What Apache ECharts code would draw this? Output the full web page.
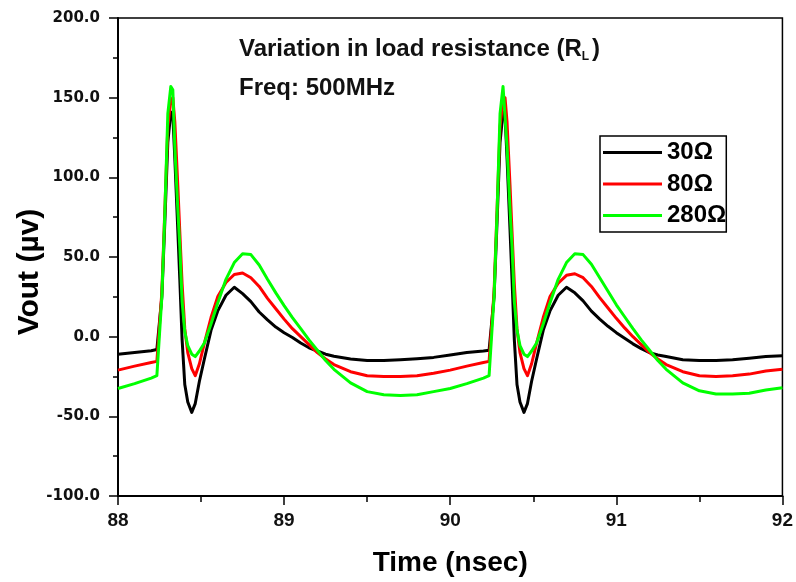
<!DOCTYPE html>
<html>
<head>
<meta charset="utf-8">
<script src="https://cdn.jsdelivr.net/npm/echarts@6/dist/echarts.min.js"></script>
<style>
html,body{margin:0;padding:0;background:#fff;}
#chart{width:796px;height:582px;}
</style>
</head>
<body>
<div id="chart"></div>
<script>
// Time (nsec)
const timeNs = [
  88.00, 88.10, 88.20, 88.234,
  88.264, 88.282, 88.30, 88.318, 88.33, 88.342, 88.36, 88.372, 88.386, 88.402, 88.42, 88.444, 88.465, 88.49,
  88.52, 88.56, 88.60, 88.65, 88.70, 88.75, 88.80, 88.85, 88.90, 88.95, 89.00, 89.05, 89.10, 89.15, 89.20, 89.25, 89.30, 89.40, 89.50, 89.60, 89.70, 89.80, 89.90, 90.00, 90.10, 90.20,
  90.234,
  90.264, 90.282, 90.30, 90.318, 90.33, 90.342, 90.36, 90.372, 90.386, 90.402, 90.42, 90.444, 90.465, 90.49,
  90.52, 90.56, 90.60, 90.65, 90.70, 90.75, 90.80, 90.85, 90.90, 90.95, 91.00, 91.05, 91.10, 91.15, 91.20, 91.25, 91.30, 91.40, 91.50, 91.60, 91.70, 91.80, 91.90, 92.00
];
// Vout (uV) for RL = 30 ohm
const vout30 = [
  -11, -10, -8.8, -8,
  25, 72, 122, 141, 139, 112, 67, 36, -2, -30, -41, -47.5, -42, -28,
  -14, 4, 16, 26, 31, 27, 22, 15.5, 10.5, 6, 2.5, -0.5, -4, -7, -9, -11, -12.3, -14, -15, -15, -14.5, -13.8, -13, -11.5, -10, -9,
  -8.5,
  25, 72, 122, 141, 139, 112, 67, 36, -2, -30, -41, -47.5, -42, -28,
  -14, 4, 16, 26, 31, 27.5, 22.5, 16, 11, 6.5, 2.5, -1, -4.5, -7.5, -10, -11.5, -12.5, -14.5, -15, -15, -14.5, -13.5, -12.5, -12
];
// Vout (uV) for RL = 80 ohm
const vout80 = [
  -21, -18.5, -16.2, -15.5,
  28, 80, 132, 148, 150, 135, 95, 66, 33, 5, -10, -20, -24.5, -17,
  -4, 12, 25, 34, 39, 40, 37, 31.5, 24, 17.5, 11, 5, 0, -5, -10, -14, -17.5, -22, -24.5, -25, -25, -24.5, -23, -21, -18.5, -16.2,
  -15.5,
  28, 80, 132, 148, 150, 135, 95, 66, 33, 5, -10, -20, -24.5, -17,
  -4, 12, 25, 33.5, 38.5, 39.5, 37, 31.5, 24.5, 18, 11.5, 5.5, 0, -5, -10, -14, -17.5, -22, -24.5, -25, -24.5, -23.5, -21.5, -20.5
];
// Vout (uV) for RL = 280 ohm
const vout280 = [
  -32.5, -29.5, -26, -24.5,
  25, 78, 140, 157, 155, 119, 80, 57, 22, 3, -5.6, -11, -12.5, -9,
  -4, 8, 21, 36, 46.5, 52, 51.5, 45, 36, 27.5, 19.5, 12, 5, -2, -8.5, -15, -20.5, -29, -34.5, -36.5, -37, -36.5, -34.5, -32.5, -29.5, -26,
  -24.5,
  25, 78, 140, 157, 156, 119, 80, 57, 22, 4, -5.6, -11, -12.5, -9,
  -4, 8, 21, 36, 46.5, 52, 51.5, 45.5, 37, 28.5, 20, 12.5, 5, -2, -8.5, -15, -20.5, -29, -34, -36, -36, -35.5, -33.5, -32
];
const seriesNames = ['30Ω', '80Ω', '280Ω'];
const seriesColors = ['#000000', '#ff0000', '#00ff00'];
const yTicks = { min: -100, max: 200, interval: 50 };
const xTicks = { min: 88, max: 92, interval: 1 };

const chart = echarts.init(document.getElementById('chart'), null, { renderer: 'canvas' });
const values = [vout30, vout80, vout280];
const lab = "'Liberation Sans', Arial, sans-serif";

const option = {
  backgroundColor: '#ffffff',
  animation: false,
  grid: { left: 118, right: 12, top: 18, bottom: 84, show: true, borderColor: '#000', borderWidth: 1.5, backgroundColor: 'transparent' },
  title: [
    {
      left: 234, top: 30,
      text: '{a|Variation in load resistance (R}{s|L}{a|)}',
      textStyle: {
        rich: {
          a: { fontFamily: lab, fontWeight: 'bold', fontSize: 24, color: '#111' },
          s: { fontFamily: lab, fontWeight: 'bold', fontSize: 12, color: '#111', padding: [16, 3, 0, 0] }
        }
      }
    },
    {
      left: 234, top: 71,
      text: 'Freq: 500MHz',
      textStyle: { fontFamily: lab, fontWeight: 'bold', fontSize: 24, color: '#111' }
    }
  ],
  graphic: [
    {
      type: 'text',
      x: 30, y: 272,
      rotation: Math.PI / 2,
      style: { text: 'Vout (µv)', fontFamily: lab, fontWeight: 'bold', fontSize: 30, fill: '#000', align: 'center', verticalAlign: 'middle' }
    }
  ],
  legend: {
    orient: 'vertical',
    left: 600, top: 136,
    padding: [4, 0, 4, 3],
    itemGap: 6.5,
    itemWidth: 59, itemHeight: 3,
    icon: 'rect',
    borderColor: '#000', borderWidth: 1.5,
    data: seriesNames,
    textStyle: { fontFamily: lab, fontWeight: 'bold', fontSize: 24, color: '#000', lineHeight: 25 }
  },
  xAxis: {
    type: 'value',
    min: xTicks.min, max: xTicks.max, interval: xTicks.interval,
    name: 'Time (nsec)', nameLocation: 'middle', nameGap: 53,
    nameTextStyle: { fontFamily: lab, fontWeight: 'bold', fontSize: 28, color: '#000' },
    axisLine: { show: true, onZero: false, lineStyle: { color: '#000', width: 2 } },
    axisTick: { show: true, length: 9, lineStyle: { color: '#000', width: 1.5 } },
    minorTick: { show: true, splitNumber: 2, length: 6, lineStyle: { color: '#000', width: 1.5 } },
    splitLine: { show: false },
    axisLabel: { margin: 15, fontFamily: lab, fontWeight: 'bold', fontSize: 19, color: '#111' }
  },
  yAxis: {
    type: 'value',
    min: yTicks.min, max: yTicks.max, interval: yTicks.interval,
    axisLine: { show: true, onZero: false, lineStyle: { color: '#000', width: 2 } },
    axisTick: { show: true, length: 9, lineStyle: { color: '#000', width: 1.5 } },
    minorTick: { show: true, splitNumber: 2, length: 5, lineStyle: { color: '#000', width: 1.5 } },
    splitLine: { show: false },
    axisLabel: { margin: 18, fontFamily: "'DejaVu Sans', sans-serif", fontWeight: 'bold', fontSize: 15, color: '#111',
      formatter: v => v.toFixed(1) }
  },
  series: seriesNames.map((n, k) => ({
    name: n,
    type: 'line',
    showSymbol: false,
    symbol: 'none',
    smooth: false,
    clip: true,
    color: seriesColors[k],
    lineStyle: { color: seriesColors[k], width: 3, join: 'round' },
    data: timeNs.map((t, i) => [t, values[k][i]])
  }))
};
chart.setOption(option);
</script>
</body>
</html>
